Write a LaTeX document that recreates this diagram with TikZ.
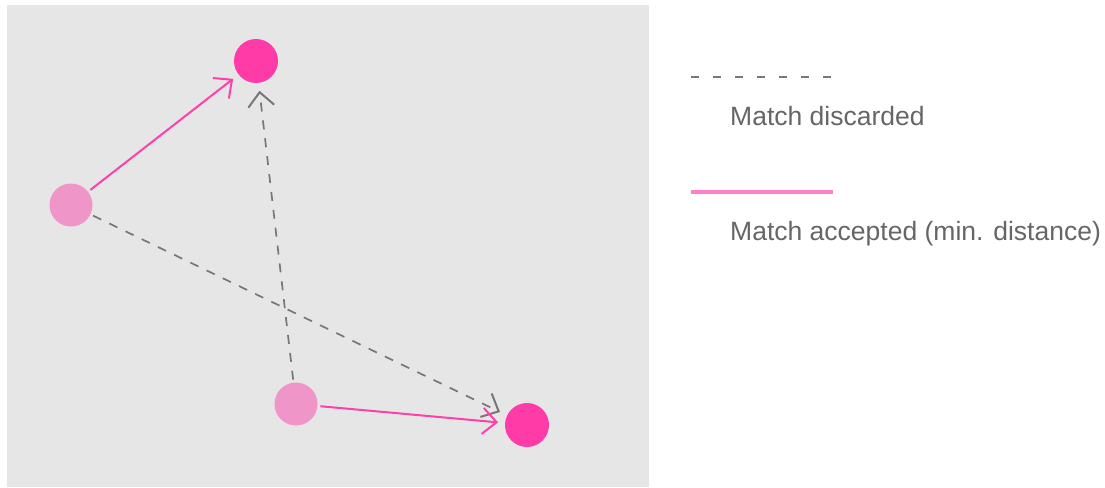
\documentclass[tikz,border=0pt]{standalone}
\usepackage{fontspec}
\setmainfont{Liberation Sans}
\usetikzlibrary{arrows.meta}
\definecolor{bggrey}{HTML}{E6E6E6}
\definecolor{darkpink}{HTML}{FF3BA8}
\definecolor{lightpink}{HTML}{F095C8}
\definecolor{linepink}{HTML}{FF40AA}
\definecolor{legpink}{HTML}{FF80C8}
\definecolor{greyline}{HTML}{777777}
\definecolor{textgrey}{HTML}{666666}
\tikzset{
  target/.style={circle, fill=darkpink, minimum size=44pt, inner sep=0pt, outer sep=4pt},
  source/.style={circle, fill=lightpink, minimum size=43pt, inner sep=0pt, outer sep=3pt},
  tip/.style={-{Straight Barb[length=14pt, width=26pt, line width=2pt]}},
  accepted/.style={tip, draw=linepink, line width=2pt, shorten >=3pt},
  discarded/.style={tip, draw=greyline, line width=1.7pt, dash pattern=on 9pt off 9pt, shorten >=4pt},
  legtext/.style={anchor=base west, inner sep=0pt, text=textgrey, font=\fontsize{26.5}{31}\selectfont}
}
\begin{document}
\begin{tikzpicture}[x=1pt, y=-1pt]
\useasboundingbox (0,0) rectangle (1105,487);
\fill[white] (0,0) rectangle (1105,487);
\fill[bggrey] (7,5) rectangle (649,487);
\node[source] (s1) at (71,205) {};
\node[source] (s2) at (296,404) {};
\node[target] (t1) at (256,61) {};
\node[target] (t2) at (527,425) {};
\draw[discarded] (s2) -- (t1);
\draw[discarded] (s1) -- (t2);
\draw[accepted] (s1) -- (t1);
\draw[accepted] (s2) -- (t2);
% legend
\coordinate (d1) at (691,77);
\coordinate (d2) at (833,77);
\draw[greyline, line width=1.5pt, dash pattern=on 8pt off 14pt] (d1) -- (d2);
\node[legtext] (l1) at (730,125) {Match discarded};
\coordinate (a1) at (691,192);
\coordinate (a2) at (833,192);
\draw[legpink, line width=3.5pt] (a1) -- (a2);
\node[legtext] (l2) at (730,240) {Match accepted (min. distance)};
\end{tikzpicture}
\end{document}
